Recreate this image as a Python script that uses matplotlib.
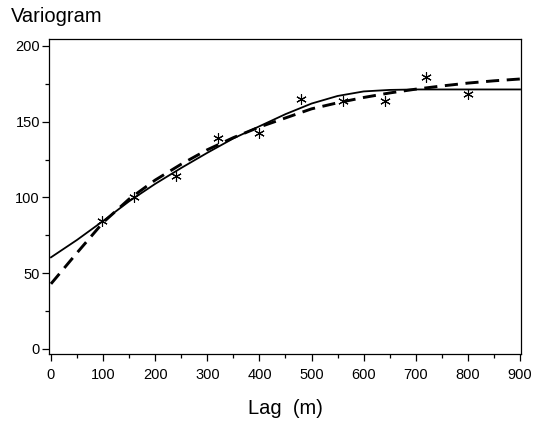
import numpy as np
import matplotlib
matplotlib.use("Agg")
import matplotlib.pyplot as plt
from matplotlib.ticker import MultipleLocator

plt.rcParams['font.family'] = ['Liberation Sans', 'DejaVu Sans']

# empirical variogram (asterisks)
lag_pts = [97, 160, 240, 320, 400, 480, 560, 640, 720, 800]
gamma_pts = [84.5, 100, 114, 139.5, 142.5, 165, 163.5, 164, 179.5, 168]

# fitted model curves
lag_curve = [0, 50, 100, 150, 200, 250, 300, 350, 400, 450,
             500, 550, 600, 650, 700, 750, 800, 850, 900]
solid_curve = [60.5, 72, 84.5, 97.5, 109, 119.5, 129.5, 139, 147, 155,
               162, 167, 170, 171, 171.3, 171.3, 171.3, 171.3, 171.3]
dashed_curve = [43, 63.5, 83.5, 99, 111.5, 122, 131.5, 139.5, 146.5, 152.5,
                158.5, 162.5, 166, 169, 171.5, 173.6, 175.5, 177, 178.2]

fig = plt.figure(figsize=(5.43, 4.21), dpi=100)
ax = fig.add_axes([49/543, 1-354/421, 472/543, 315/421])

ax.plot(lag_curve, solid_curve, color='black', lw=1.3)
ax.plot(lag_curve, dashed_curve, color='black', lw=2.1, ls=(0, (4.5, 2.6)))
ax.plot(lag_pts, gamma_pts, ls='none', marker=(6, 2, 0), ms=7.5, mew=0.8,
        color='black')

ax.set_xlim(-3.8, 901.9)
ax.set_ylim(-3.3, 204.6)
ax.xaxis.set_major_locator(MultipleLocator(100))
ax.xaxis.set_minor_locator(MultipleLocator(50))
ax.yaxis.set_major_locator(MultipleLocator(50))
ax.yaxis.set_minor_locator(MultipleLocator(25))
ax.tick_params(which='major', direction='out', length=5, width=0.9,
               labelsize=10.5, pad=5)
ax.tick_params(which='minor', direction='out', length=3, width=0.9)
ax.tick_params(axis='y', pad=1.5)
for s in ax.spines.values():
    s.set_linewidth(0.9)

fig.text(11/543, 1-22/421, 'Variogram', fontsize=14.5, ha='left', va='baseline')
fig.text(285/543, 1-414/421, 'Lag  (m)', fontsize=14.5, ha='center', va='baseline')

fig.savefig('out.png', dpi=100)
